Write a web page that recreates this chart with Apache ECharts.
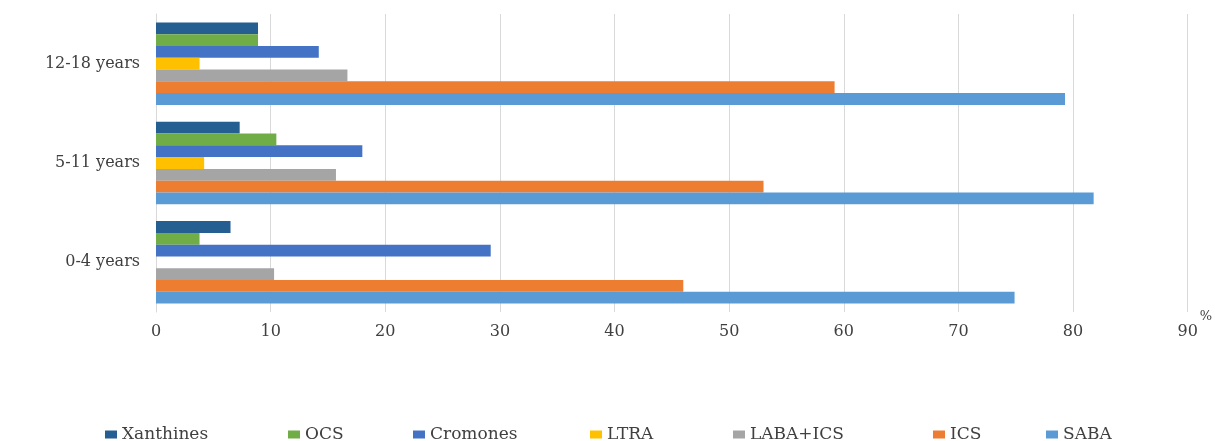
<!DOCTYPE html>
<html>
<head>
<meta charset="utf-8">
<script src="https://cdn.jsdelivr.net/npm/echarts@6/dist/echarts.min.js"></script>
<style>html,body{margin:0;padding:0;background:#fff}#c{width:1215px;height:441px}</style>
</head>
<body>
<div id="c"></div>
<script>
var categories = ['0-4 years', '5-11 years', '12-18 years'];
var seriesNames = ['Xanthines', 'OCS', 'Cromones', 'LTRA', 'LABA+ICS', 'ICS', 'SABA'];
var xanthines = [6.5, 7.3, 8.9];
var ocs = [3.8, 10.5, 8.9];
var cromones = [29.2, 18.0, 14.2];
var ltra = [0, 4.2, 3.8];
var labaIcs = [10.3, 15.7, 16.7];
var ics = [46.0, 53.0, 59.2];
var saba = [74.9, 81.8, 79.3];
var xTicks = [0, 10, 20, 30, 40, 50, 60, 70, 80, 90];

var values = [xanthines, ocs, cromones, ltra, labaIcs, ics, saba];
var colors = ['#255e91', '#70ad47', '#4472c4', '#ffc000', '#a5a5a5', '#ed7d31', '#5b9bd5'];
var legendTextLeft = [117, 300, 425, 602, 745, 945, 1058];

var font = 'DejaVu Serif';
var txt = '#404040';

var series = seriesNames.map(function (n, i) {
  return {
    name: n, type: 'bar', data: values[i],
    itemStyle: { color: colors[i] },
    barGap: '0%', barCategoryGap: '17%',
    emphasis: { disabled: true }
  };
});

var legends = seriesNames.map(function (n, i) {
  return {
    data: [n], left: legendTextLeft[i] - 17, top: 421,
    itemWidth: 12, itemHeight: 8, icon: 'rect', selectedMode: false,
    textStyle: { fontFamily: font, fontSize: 17, color: txt, lineHeight: 17 }
  };
});

var chart = echarts.init(document.getElementById('c'), null, { renderer: 'canvas' });
chart.setOption({
  animation: false,
  color: colors,
  legend: legends,
  grid: { left: 156, right: 25, top: 14, bottom: 129, containLabel: false },
  xAxis: {
    type: 'value', min: 0, max: 90, interval: 10,
    name: '%', nameLocation: 'end', nameGap: 12,
    nameTextStyle: { fontFamily: font, fontSize: 13, color: txt, verticalAlign: 'top', padding: [-2, 0, 0, 0] },
    axisLine: { show: false }, axisTick: { show: false },
    axisLabel: {
      fontFamily: font, fontSize: 16, color: txt, margin: 12,
      formatter: function (v) { return xTicks.indexOf(v) >= 0 ? String(v) : ''; }
    },
    splitLine: { show: true, lineStyle: { color: '#d9d9d9', width: 1 } }
  },
  yAxis: {
    type: 'category', data: categories,
    axisLine: { show: true, lineStyle: { color: '#d9d9d9' } },
    axisTick: { show: false },
    axisLabel: { fontFamily: font, fontSize: 16, color: txt, margin: 16 }
  },
  series: series
});
</script>
</body>
</html>
